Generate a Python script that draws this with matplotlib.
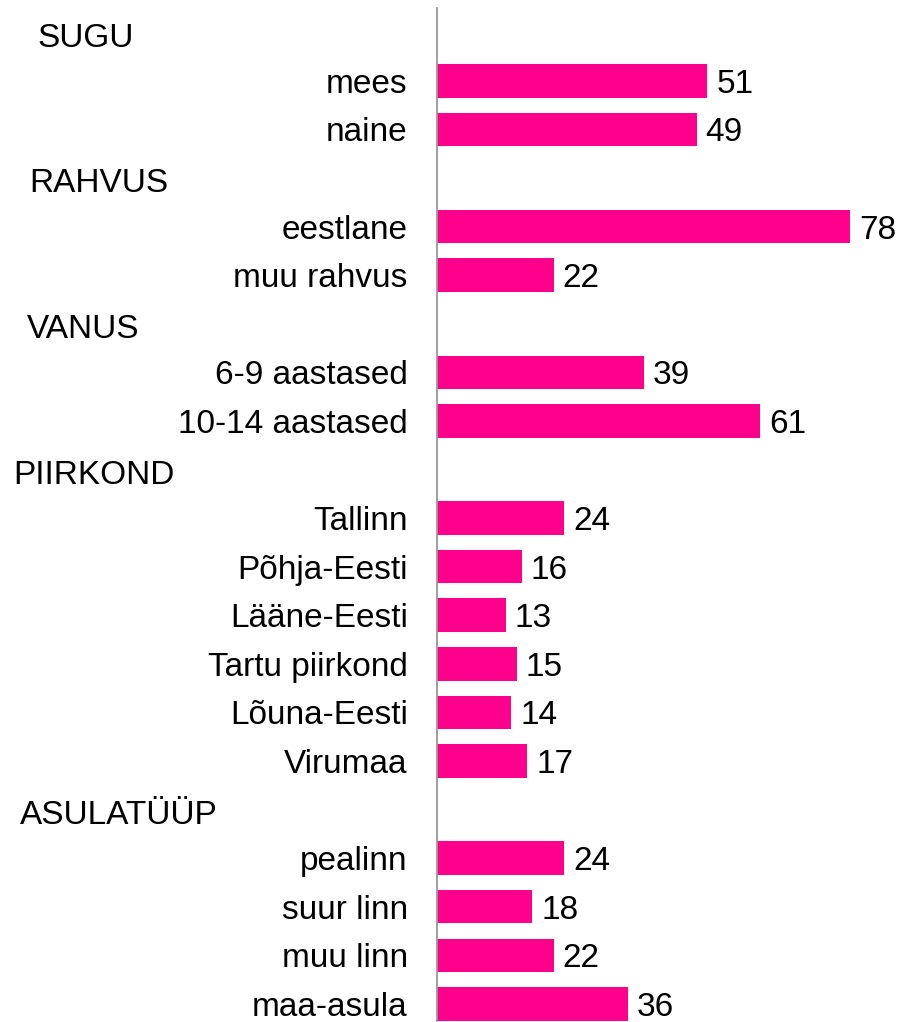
import matplotlib
matplotlib.use("Agg")
import matplotlib.pyplot as plt
from matplotlib.transforms import blended_transform_factory

plt.rcParams['font.family'] = ['Liberation Sans', 'DejaVu Sans']

# ---- data ----
groups = ["SUGU", "RAHVUS", "VANUS", "PIIRKOND", "ASULATÜÜP"]
group_items = [
    ["mees", "naine"],
    ["eestlane", "muu rahvus"],
    ["6-9 aastased", "10-14 aastased"],
    ["Tallinn", "Põhja-Eesti", "Lääne-Eesti", "Tartu piirkond", "Lõuna-Eesti", "Virumaa"],
    ["pealinn", "suur linn", "muu linn", "maa-asula"],
]
group_values = [
    [51, 49],
    [78, 22],
    [39, 61],
    [24, 16, 13, 15, 14, 17],
    [24, 18, 22, 36],
]

# ---- styling ----
BAR_COLOR = "#FF008C"
FS = 24
W, H = 902, 1022
header_x_px = {"SUGU": 37, "RAHVUS": 29, "VANUS": 27, "PIIRKOND": 13, "ASULATÜÜP": 20}

fig = plt.figure(figsize=(W / 100, H / 100), dpi=100)
axis_x = 437
row_h = 48.58
n_rows = sum(1 + len(it) for it in group_items)
top_px = 8
ax_h = n_rows * row_h
ax_w = W - axis_x
ax = fig.add_axes([axis_x / W, (H - top_px - ax_h) / H, ax_w / W, ax_h / H])
ax.set_ylim(n_rows - 0.5, -0.5)
ax.set_xlim(0, ax_w / 5.3)

trans = blended_transform_factory(fig.transFigure, ax.transData)
row = 0
tick_pos, tick_lab = [], []
for g, items, vals in zip(groups, group_items, group_values):
    ax.text(header_x_px[g] / W, row + 0.05, g, transform=trans, fontsize=FS,
            ha="left", va="center_baseline", color="black")
    row += 1
    for lab, v in zip(items, vals):
        ax.barh(row, v, height=0.69, color=BAR_COLOR, zorder=2)
        ax.annotate(str(v), xy=(v, row), xytext=(6.5, 0), textcoords="offset points",
                    ha="left", va="center_baseline", fontsize=FS, color="black")
        tick_pos.append(row)
        tick_lab.append(lab)
        row += 1

ax.set_yticks(tick_pos)
ax.set_yticklabels(tick_lab, fontsize=FS)
ax.tick_params(axis="y", length=0, pad=21)
ax.set_xticks([])
for s in ["top", "right", "bottom"]:
    ax.spines[s].set_visible(False)
ax.spines["left"].set_color("#999999")
ax.spines["left"].set_linewidth(1.3)
ax.spines["left"].set_zorder(3)

fig.savefig("out.png", dpi=100)
